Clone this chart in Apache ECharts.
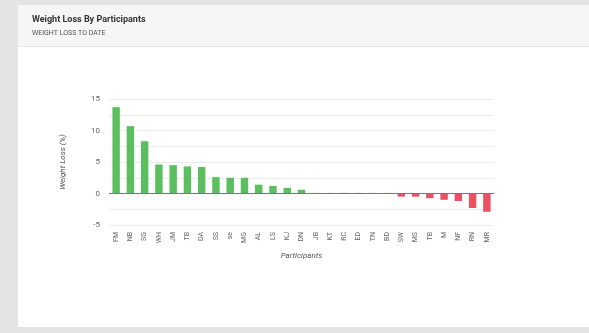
<!DOCTYPE html>
<html>
<head>
<meta charset="utf-8">
<script src="https://cdn.jsdelivr.net/npm/echarts@6/dist/echarts.min.js"></script>
<style>
  html, body { margin:0; padding:0; background:#e4e4e4; }
  #card { position:absolute; left:18px; top:5px; width:571px; height:322px; background:#fff; }
  #head { position:absolute; left:0; top:0; width:100%; height:41px; background:#f6f6f6; border-bottom:1px solid #e6e6e6; }
  #main { position:absolute; left:0; top:0; width:589px; height:333px; }
</style>
</head>
<body>
<div id="card"><div id="head"></div></div>
<div id="main"></div>
<script>
// participants (initials) and weight loss to date, %
var participants = ['FM','NB','SG','WH','JM','TB','DA','SS','se','MG','AL','LS','KJ','DN','JB','KT','RC','ED','TN','BD','SW','MS','TB','M','NF','RN','MR'];
var weightLoss = [13.7, 10.7, 8.3, 4.6, 4.5, 4.3, 4.2, 2.6, 2.5, 2.5, 1.4, 1.2, 0.9, 0.6, 0.1, 0.1, 0.1, 0.1, 0.1, 0.1, -0.5, -0.5, -0.75, -1.0, -1.2, -2.3, -2.9];
var yTicks = [-5, 0, 5, 10, 15];

var chart = echarts.init(document.getElementById('main'));
var option = {
    title: {
        text: 'Weight Loss By Participants',
        subtext: 'WEIGHT LOSS TO DATE',
        left: 27,
        top: 10,
        itemGap: 6,
        textStyle: { fontSize: 9, fontWeight: 'bold', color: '#333', fontFamily: 'Roboto' },
        subtextStyle: { fontSize: 7, color: '#555', fontFamily: 'Roboto' }
    },
    grid: { left: 109, right: 95, top: 99, bottom: 108 },
    xAxis: {
        type: 'category',
        data: participants,
        name: 'Participants',
        nameLocation: 'middle',
        nameGap: 27,
        nameTextStyle: { fontStyle: 'italic', fontSize: 8, color: '#555', fontFamily: 'Roboto' },
        axisLine: { show: false, onZero: false },
        axisTick: { show: false },
        axisLabel: { rotate: 90, interval: 0, fontSize: 7, color: '#666', margin: 7, fontFamily: 'Roboto' }
    },
    yAxis: {
        type: 'value',
        min: yTicks[0],
        max: yTicks[yTicks.length - 1],
        interval: 2.5,
        name: 'Weight Loss (%)',
        nameLocation: 'middle',
        nameGap: 42,
        nameTextStyle: { fontStyle: 'italic', fontSize: 8, color: '#555', fontFamily: 'Roboto' },
        axisLine: { show: false },
        axisTick: { show: false },
        axisLabel: {
            fontSize: 8, color: '#666', margin: 9, fontFamily: 'Roboto',
            formatter: function (v) { return yTicks.indexOf(v) >= 0 ? v : ''; }
        },
        splitLine: { lineStyle: { color: '#ececec' } }
    },
    series: [{
        type: 'bar',
        data: weightLoss,
        barWidth: '52%',
        itemStyle: {
            color: function (p) { return p.value >= 0 ? '#5cbf5f' : '#ea5262'; }
        },
        markLine: {
            silent: true,
            symbol: 'none',
            label: { show: false },
            lineStyle: { color: '#777', type: 'solid', width: 1 },
            data: [{ yAxis: 0 }]
        }
    }]
};
chart.setOption(option);
</script>
</body>
</html>
